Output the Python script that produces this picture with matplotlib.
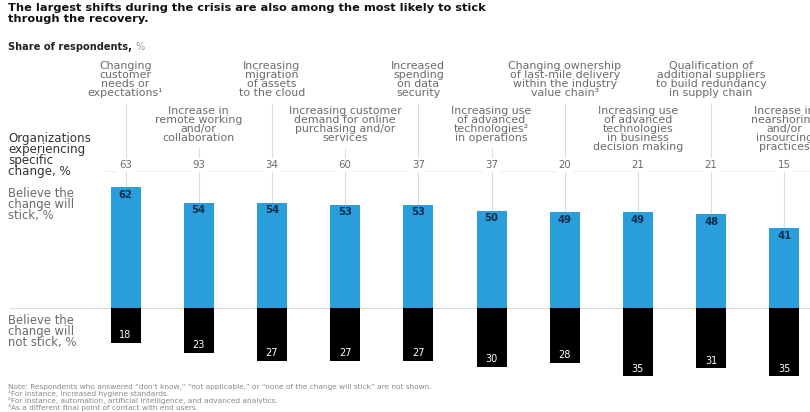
import matplotlib
matplotlib.use("Agg")
import matplotlib.pyplot as plt

plt.rcParams['font.family'] = ['DejaVu Sans']

# Survey results per shift
shifts = [
    "Changing\ncustomer\nneeds or\nexpectations\u00b9",
    "Increase in\nremote working\nand/or\ncollaboration",
    "Increasing\nmigration\nof assets\nto the cloud",
    "Increasing customer\ndemand for online\npurchasing and/or\nservices",
    "Increased\nspending\non data\nsecurity",
    "Increasing use\nof advanced\ntechnologies\u00b2\nin operations",
    "Changing ownership\nof last-mile delivery\nwithin the industry\nvalue chain\u00b3",
    "Increasing use\nof advanced\ntechnologies\nin business\ndecision making",
    "Qualification of\nadditional suppliers\nto build redundancy\nin supply chain",
    "Increase in\nnearshoring\nand/or\ninsourcing\npractices",
]
experiencing = [63, 93, 34, 60, 37, 37, 20, 21, 21, 15]
will_stick = [62, 54, 54, 53, 53, 50, 49, 49, 48, 41]
will_not_stick = [18, 23, 27, 27, 27, 30, 28, 35, 31, 35]

footnotes = [
    "Note: Respondents who answered \u201cdon\u2019t know,\u201d \u201cnot applicable,\u201d or \u201cnone of the change will stick\u201d are not shown.",
    "\u00b9For instance, increased hygiene standards.",
    "\u00b2For instance, automation, artificial intelligence, and advanced analytics.",
    "\u00b3As a different final point of contact with end users.",
]

BLUE = '#2a9edb'
GREY_TEXT = '#6b6b6b'
RULE = '#dcdcdc'

W, H = 810, 412
fig = plt.figure(figsize=(W / 100, H / 100), dpi=100)
ax = fig.add_axes([0, 0, 1, 1])

# pixel layout of the bar area
x0_px, step_px = 125.5, 73.2
base_px, unit_px = 308, 1.95
ax.set_xlim(-x0_px / step_px, (W - x0_px) / step_px)
ax.set_ylim(-(H - base_px) / unit_px, base_px / unit_px)
ax.axis('off')


def py2y(py):
    # y pixel from the top -> data units
    return (base_px - py) / unit_px


def px2x(px):
    return (px - x0_px) / step_px


idx = list(range(len(shifts)))
bw = 30 / step_px
line_px = 9.4

ax.plot([px2x(10), px2x(W)], [0, 0], color=RULE, lw=0.8, zorder=1)
ax.plot([px2x(105), px2x(W)], [py2y(171)] * 2, color='#ececec', lw=0.6, zorder=1)

ax.bar(idx, will_stick, width=bw, color=BLUE, zorder=3)
ax.bar(idx, [-v for v in will_not_stick], width=bw, color='black', zorder=3)

for i in idx:
    top_row = i % 2 == 0
    label_top = 61 if top_row else 106
    nlines = shifts[i].count('\n') + 1
    label_bottom = label_top + nlines * line_px + 4
    ax.text(i, py2y(label_top), shifts[i], ha='center', va='top',
            fontsize=7.9, linespacing=0.86, color=GREY_TEXT, zorder=4)
    ax.vlines(i, will_stick[i], py2y(label_bottom), color=RULE, lw=0.8, zorder=2)
    ax.text(i, py2y(165), str(experiencing[i]), ha='center', va='center',
            fontsize=7.4, color=GREY_TEXT, zorder=4,
            bbox=dict(facecolor='white', edgecolor='none', pad=1.2))
    ax.text(i, will_stick[i] - 3.9, str(will_stick[i]), ha='center', va='center',
            fontsize=7.2, fontweight='bold', color='#0d2d4d', zorder=5)
    ax.text(i, -will_not_stick[i] + 3.9, str(will_not_stick[i]), ha='center',
            va='center', fontsize=7, color='white', zorder=5)


def ftext(px, py, s, **kw):
    kw.setdefault('va', 'top')
    return fig.text(px / W, 1 - py / H, s, ha='left', **kw)


ftext(8, 3, "The largest shifts during the crisis are also among the most likely to stick\nthrough the recovery.",
      fontsize=8.2, fontweight='bold', linespacing=1.15, color='#111111')
share = ftext(8, 42, "Share of respondents, ", fontsize=7.1, fontweight='bold', color='#222222')
ax.annotate("%", xy=(1, 0), xycoords=share, ha='left', va='bottom',
            fontsize=7.1, color='#999999')

ftext(8, 132, "Organizations\nexperiencing\nspecific\nchange, %", fontsize=8.6,
      linespacing=0.8, color='#333333')
ftext(8, 187, "Believe the\nchange will\nstick, %", fontsize=8.4,
      linespacing=0.8, color=GREY_TEXT)
ftext(8, 314, "Believe the\nchange will\nnot stick, %", fontsize=8.4,
      linespacing=0.8, color=GREY_TEXT)

# footnotes, one line each
for k, note in enumerate(footnotes):
    ftext(8, 387 + 6.8 * k, note, fontsize=5.3, color='#888888', va='center')

fig.savefig('out.png', dpi=100)
